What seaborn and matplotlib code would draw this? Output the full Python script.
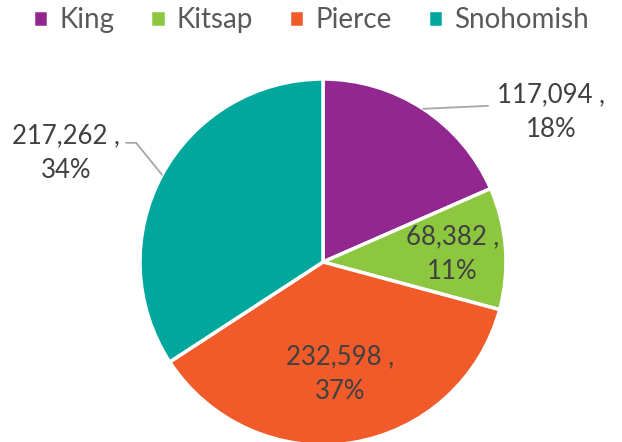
import numpy as np
import seaborn as sns
import matplotlib.pyplot as plt

sns.set_theme(style='white')
plt.rcParams['font.family'] = ['Lato', 'DejaVu Sans']

counties = ['King', 'Kitsap', 'Pierce', 'Snohomish']
counts = [117094, 68382, 232598, 217262]
colors = ['#92278F', '#8DC63F', '#F15A29', '#00A79D']

fig = plt.figure(figsize=(6.22, 4.42), dpi=100)
ax = fig.add_axes([0, 0, 1, 1])

cx, cy, r = 323, 180, 183
wedges, _ = ax.pie(counts, colors=colors, startangle=90, counterclock=False,
                   center=(cx, cy), radius=r, frame=True,
                   wedgeprops=dict(edgecolor='white', linewidth=2.5))
ax.set_xlim(0, 622)
ax.set_ylim(0, 442)
ax.axis('off')

total = sum(counts)
labels = [f'{c:,} ,\n{round(100 * c / total)}%' for c in counts]
txt = dict(fontsize=18.5, color='#404040', linespacing=1.5)

# label positions: inside for Kitsap / Pierce, outside with leaders for the others
for i, w in enumerate(wedges):
    mid = np.deg2rad((w.theta1 + w.theta2) / 2)
    ex, ey = cx + r * np.cos(mid), cy + r * np.sin(mid)
    if counties[i] == 'King':
        ax.plot([ex, ex + 65], [ey, ey + 3], color='#a6a6a6', lw=1.3)
        ax.text(ex + 128, ey - 3, labels[i], ha='center', va='center', **txt)
    elif counties[i] == 'Snohomish':
        ax.plot([ex, ex - 26, ex - 36], [ey, ey + 32, ey + 32], color='#a6a6a6', lw=1.3)
        ax.text(ex - 96, ey + 22, labels[i], ha='center', va='center', **txt)
    else:
        f = 0.71 if counties[i] == 'Kitsap' else 0.61
        ax.text(cx + f * r * np.cos(mid), cy + f * r * np.sin(mid) - 2, labels[i],
                ha='center', va='center', **txt)

fig.legend(wedges, counties, loc='upper center', bbox_to_anchor=(0.5, 1.04), ncol=4,
           frameon=False, fontsize=20, labelcolor='#595959',
           handlelength=0.55, handleheight=0.55, handletextpad=0.4, columnspacing=1.3)

plt.savefig('out.png', dpi=100)
